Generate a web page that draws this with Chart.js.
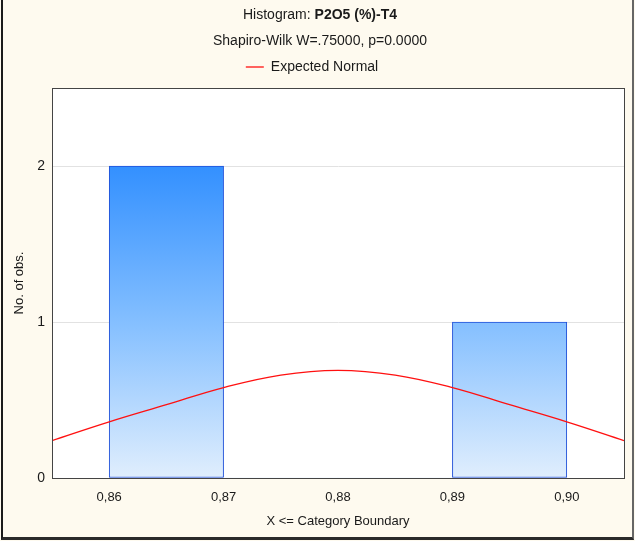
<!DOCTYPE html>
<html>
<head>
<meta charset="utf-8">
<script src="https://cdn.jsdelivr.net/npm/chart.js@4/dist/chart.umd.min.js"></script>
<style>
  html, body { margin: 0; padding: 0; background: #fefaef; }
  #wrap { position: relative; width: 635px; height: 541px; background: #fefaef; }
  #c { position: absolute; left: 0; top: 0; }
  #frame { position: absolute; left: 1px; top: 0; width: 633px; height: 540px; box-sizing: border-box;
           border-left: 2px solid #1a1a1a; border-right: 2px solid #666; border-bottom: 3px solid #2a2a2a; pointer-events: none; }
</style>
</head>
<body>
<div id="wrap">
  <canvas id="c" width="635" height="541"></canvas>
  <div id="frame"></div>
</div>
<script>
// ---- data ----
const binCenters = [0.865, 0.875, 0.885, 0.895];   // bins 0.86-0.87, 0.87-0.88, 0.88-0.89, 0.89-0.90
const binCounts  = [2, 0, 0, 1];
const curveX = [0.855, 0.86, 0.865, 0.87, 0.875, 0.88, 0.885, 0.89, 0.895, 0.90, 0.905];
const curveY = [0.24, 0.36, 0.47, 0.58, 0.66, 0.69, 0.66, 0.58, 0.47, 0.36, 0.24];
const xTicks = [0.86, 0.87, 0.88, 0.89, 0.90];
const yTicks = [0, 1, 2];
const titleNormal = 'Histogram: ';
const titleBold = 'P2O5 (%)-T4';
const subtitleText = 'Shapiro-Wilk W=.75000, p=0.0000';

const FONT = '"Liberation Sans", Arial, sans-serif';
const TEXT = '#1a1a1a';

function barGradient(ctx) {
  const chart = ctx.chart;
  const ys = chart.scales.y;
  if (!ys || !chart.chartArea) return '#7ab8ff';
  const g = chart.ctx.createLinearGradient(0, ys.getPixelForValue(0), 0, ys.getPixelForValue(2));
  g.addColorStop(0, '#e0eefd');
  g.addColorStop(0.5, '#84bfff');
  g.addColorStop(1, '#3390ff');
  return g;
}

const plotBg = {
  id: 'plotBg',
  beforeDraw(chart) {
    const a = chart.chartArea;
    const c = chart.ctx;
    c.save();
    c.fillStyle = '#ffffff';
    c.fillRect(a.left, a.top, a.right - a.left, a.bottom - a.top);
    c.restore();
  }
};

const titlePlugin = {
  id: 'mixedTitle',
  afterDraw(chart) {
    const c = chart.ctx;
    c.save();
    c.fillStyle = TEXT;
    c.textBaseline = 'middle';
    c.font = '14px ' + FONT;
    const w1 = c.measureText(titleNormal).width;
    c.font = 'bold 14px ' + FONT;
    const w2 = c.measureText(titleBold).width;
    const cx = 320;
    let x0 = cx - (w1 + w2) / 2;
    c.textAlign = 'left';
    c.font = '14px ' + FONT;
    c.fillText(titleNormal, x0, 15);
    c.font = 'bold 14px ' + FONT;
    c.fillText(titleBold, x0 + w1, 15);
    c.font = '14px ' + FONT;
    c.textAlign = 'center';
    c.fillText(subtitleText, cx, 41);
    // plot frame
    const a = chart.chartArea;
    c.strokeStyle = '#444';
    c.lineWidth = 1;
    c.strokeRect(Math.round(a.left) + 0.5, Math.round(a.top) + 0.5, Math.round(a.right - a.left), Math.round(a.bottom - a.top));
    c.restore();
  }
};

new Chart(document.getElementById('c'), {
  type: 'bar',
  data: {
    datasets: [
      {
        type: 'line',
        label: 'Expected Normal',
        data: curveX.map((x, i) => ({ x: x, y: curveY[i] })),
        borderColor: '#ff1010',
        backgroundColor: '#ff1010',
        borderWidth: 1.3,
        pointRadius: 0,
        tension: 0.4,
        fill: false,
        order: 0
      },
      {
        type: 'bar',
        label: 'Counts',
        data: binCenters.map((x, i) => ({ x: x, y: binCounts[i] })),
        backgroundColor: barGradient,
        borderColor: '#1f50d8',
        borderWidth: (ctx) => (ctx.raw && ctx.raw.y > 0 ? 1 : 0),
        borderSkipped: false,
        barPercentage: 1,
        categoryPercentage: 1,
        order: 1
      }
    ]
  },
  plugins: [plotBg, titlePlugin],
  options: {
    responsive: false,
    animation: false,
    layout: { padding: { left: 0, right: 11, top: 45, bottom: 0 } },
    plugins: {
      title: { display: false },
      tooltip: { enabled: false },
      legend: {
        display: true,
        position: 'top',
        labels: {
          usePointStyle: true,
          pointStyleWidth: 18,
          pointStyle: 'line',
          color: TEXT,
          font: { family: FONT, size: 14 },
          padding: 15,
          filter: (item) => item.text === 'Expected Normal'
        }
      }
    },
    scales: {
      x: {
        type: 'linear',
        min: 0.855,
        max: 0.905,
        offset: false,
        grid: { display: false, drawTicks: false },
        border: { display: true, color: '#333' },
        afterBuildTicks: (s) => { s.ticks = xTicks.map(v => ({ value: v })); },
        afterFit: (s) => { s.height = 63; },
        ticks: {
          color: TEXT,
          font: { family: FONT, size: 13 },
          padding: 12,
          maxRotation: 0,
          callback: (v) => Number(v).toFixed(2).replace('.', ',')
        },
        title: {
          display: true,
          text: 'X <= Category Boundary',
          color: TEXT,
          font: { family: FONT, size: 13 },
          padding: { top: 6, bottom: 12 }
        }
      },
      xTop: {
        type: 'linear',
        position: 'top',
        min: 0.855,
        max: 0.905,
        grid: { display: false, drawTicks: false },
        border: { display: false },
        ticks: { display: false },
        afterFit: (s) => { s.height = 4; }
      },
      y: {
        type: 'linear',
        min: 0,
        max: 2.5,
        grid: {
          drawTicks: false,
          color: (ctx) => (ctx.tick && ctx.tick.value === 0 ? 'rgba(0,0,0,0)' : '#e2e2e2')
        },
        border: { display: true, color: '#333' },
        afterBuildTicks: (s) => { s.ticks = yTicks.map(v => ({ value: v })); },
        afterFit: (s) => { s.width = 52; },
        ticks: {
          color: TEXT,
          font: { family: FONT, size: 14 },
          padding: 7,
          callback: (v) => String(v)
        },
        title: {
          display: true,
          text: 'No. of obs.',
          color: TEXT,
          font: { family: FONT, size: 13 },
          padding: { top: 12, bottom: 4 }
        }
      }
    }
  }
});
</script>
</body>
</html>
